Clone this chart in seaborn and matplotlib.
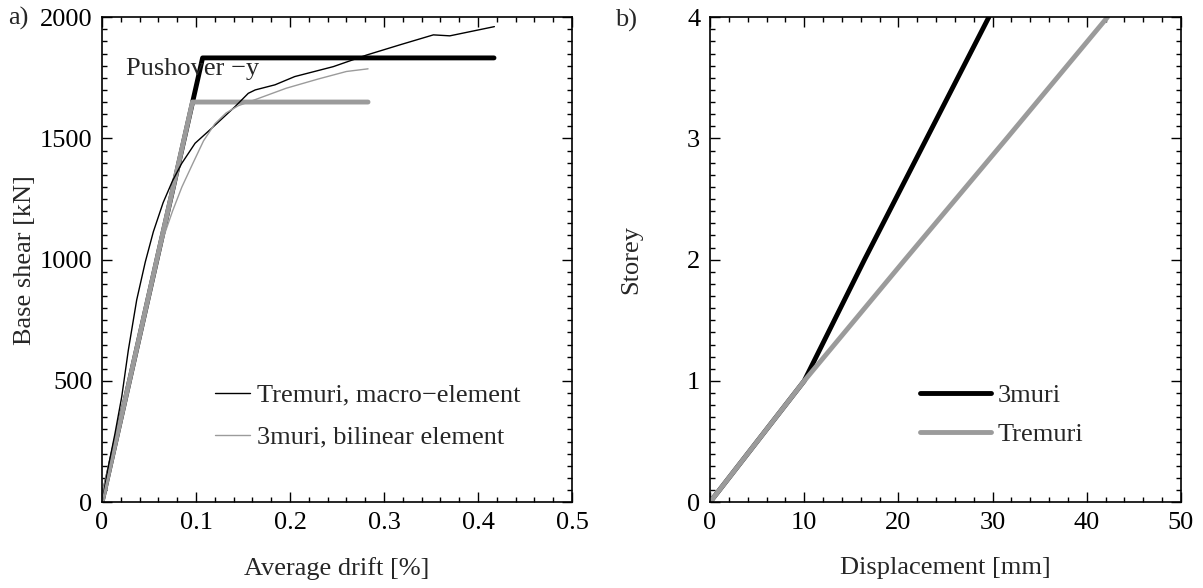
"""
Pushover curves (a) and storey displacement profiles (b)
"""

import numpy as np
import pandas as pd
import matplotlib
matplotlib.use('Agg')
import matplotlib.pyplot as plt
from matplotlib.ticker import MultipleLocator
import seaborn as sns

sns.set_style('ticks')
plt.rcParams['font.family'] = ['Liberation Serif', 'DejaVu Serif']

# ---- panel a) data: average drift [%] vs base shear [kN]
tremuri_drift = [0, 0.0067, 0.0138, 0.021, 0.028, 0.0369, 0.046, 0.0546, 0.065,
                 0.075, 0.0848, 0.099, 0.1167, 0.1415, 0.1556, 0.163, 0.184,
                 0.205, 0.246, 0.2816, 0.317, 0.3525, 0.370, 0.4174]
tremuri_shear = [0, 146, 283, 435, 627, 834, 990, 1115, 1235,
                 1325, 1397, 1480, 1542, 1631, 1686, 1700, 1721,
                 1755, 1796, 1844, 1886, 1927, 1923, 1961]

muri3_drift = [0, 0.03, 0.058, 0.066, 0.075, 0.085, 0.097, 0.108, 0.12,
               0.132, 0.145, 0.163, 0.196, 0.23, 0.26, 0.283]
muri3_shear = [0, 515, 990, 1100, 1200, 1300, 1400, 1490, 1560,
               1605, 1635, 1660, 1707, 1745, 1776, 1787]

bilin_tremuri_drift = [0, 0.107, 0.417]
bilin_tremuri_shear = [0, 1832, 1832]
bilin_3muri_drift = [0, 0.0962, 0.283]
bilin_3muri_shear = [0, 1650, 1650]

# ---- panel b) data: displacement [mm] vs storey
storeys = [0, 1, 2, 3, 4]
disp_3muri = [0, 10.0, 16.4, 23.0, 29.6]
disp_tremuri = [0, 10.0, 20.7, 31.5, 42.2]

GREY = '#9b9b9b'
FS = 19

fig = plt.figure(figsize=(12.03, 5.88), dpi=100)
ax1 = fig.add_axes([0.0848, 0.146, 0.3907, 0.8248])
ax2 = fig.add_axes([0.5902, 0.146, 0.3915, 0.8248])


def line(ax, x, y, **kw):
    d = pd.DataFrame({'x': x, 'y': y})
    sns.lineplot(data=d, x='x', y='y', ax=ax, sort=False, estimator=None, **kw)


# panel a)
line(ax1, bilin_tremuri_drift, bilin_tremuri_shear, color='black', linewidth=3.5)
line(ax1, bilin_3muri_drift, bilin_3muri_shear, color=GREY, linewidth=3.5)
line(ax1, tremuri_drift, tremuri_shear, color='black', linewidth=1.0,
     label='Tremuri, macro\u2212element')
line(ax1, muri3_drift, muri3_shear, color=GREY, linewidth=1.0,
     label='3muri, bilinear element')

ax1.set_xlim(0, 0.5)
ax1.set_ylim(0, 2000)
ax1.xaxis.set_major_locator(MultipleLocator(0.1))
ax1.xaxis.set_minor_locator(MultipleLocator(0.02))
ax1.yaxis.set_major_locator(MultipleLocator(500))
ax1.yaxis.set_minor_locator(MultipleLocator(50))
ax1.set_xticks([0, 0.1, 0.2, 0.3, 0.4, 0.5])
ax1.set_xticklabels(['0', '0.1', '0.2', '0.3', '0.4', '0.5'])
ax1.set_xlabel('Average drift [%]', fontsize=FS, labelpad=17)
ax1.set_ylabel('Base shear [kN]', fontsize=FS, labelpad=3)
ax1.text(0.05, 0.893, 'Pushover \u2212y', transform=ax1.transAxes,
         fontsize=FS, ha='left', va='center')
ax1.legend(loc='upper left', bbox_to_anchor=(0.24, 0.245), frameon=False,
           fontsize=FS, handlelength=1.33, handletextpad=0.27,
           borderpad=0, borderaxespad=0, labelspacing=0.7)
fig.text(0.0067, 0.969, 'a)', fontsize=FS, ha='left', va='center')

# panel b)
line(ax2, disp_3muri, storeys, color='black', linewidth=3.5, label='3muri')
line(ax2, disp_tremuri, storeys, color=GREY, linewidth=3.5, label='Tremuri')

ax2.set_xlim(0, 50)
ax2.set_ylim(0, 4)
ax2.xaxis.set_major_locator(MultipleLocator(10))
ax2.xaxis.set_minor_locator(MultipleLocator(2))
ax2.yaxis.set_major_locator(MultipleLocator(1))
ax2.yaxis.set_minor_locator(MultipleLocator(0.1))
ax2.set_xlabel('Displacement [mm]', fontsize=FS, labelpad=17)
ax2.set_ylabel('Storey', fontsize=FS, labelpad=32)
ax2.legend(loc='upper left', bbox_to_anchor=(0.446, 0.245), frameon=False,
           fontsize=FS, handlelength=2.7, handletextpad=0.23,
           borderpad=0, borderaxespad=0, labelspacing=0.6)
fig.text(0.511, 0.966, 'b)', fontsize=FS, ha='left', va='center')

for ax in (ax1, ax2):
    for s in ax.spines.values():
        s.set_visible(True)
        s.set_linewidth(1.2)
        s.set_color('black')
    ax.tick_params(which='both', direction='in', top=True, right=True,
                   labelsize=FS, colors='black', width=1.0)
    ax.tick_params(which='major', length=7, pad=7)
    ax.tick_params(which='minor', length=3.5)

fig.savefig('out.png', dpi=100)
